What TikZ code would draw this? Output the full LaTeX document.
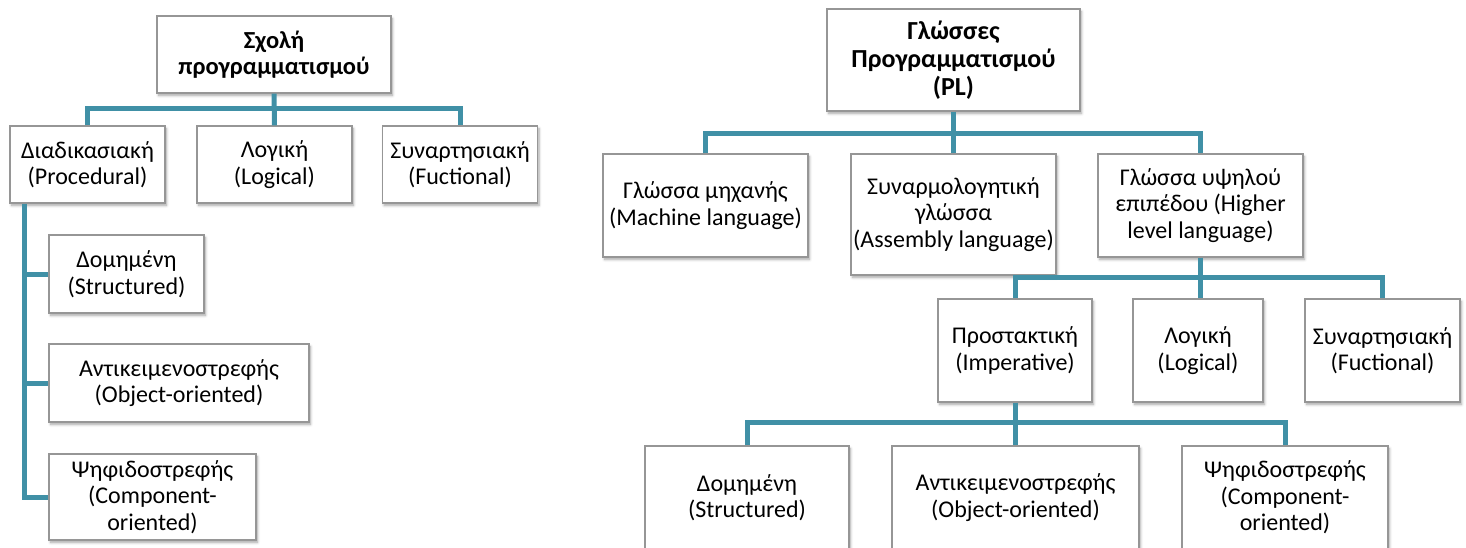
\documentclass[tikz,border=0pt]{standalone}
\usepackage{fontspec}
\setmainfont{Carlito}
\usetikzlibrary{calc,shadows.blur}
\definecolor{connblue}{RGB}{64,144,166}
\definecolor{boxline}{RGB}{150,150,150}
\begin{document}
\begin{tikzpicture}[x=1pt,y=-1pt,
  box/.style={draw=boxline, line width=1.3pt, fill=white, align=center,
    inner sep=0pt, anchor=center,
    font=\fontsize{24}{26.5}\selectfont,
    blur shadow={shadow xshift=1.5pt, shadow yshift=-2.5pt,
      shadow blur radius=2.5pt, shadow blur steps=6, shadow opacity=35}},
  headbox/.style={box, font=\fontsize{24.5}{26}\selectfont\bfseries},
  bigheadbox/.style={box, font=\fontsize{26}{28}\selectfont\bfseries},
  conn/.style={draw=connblue, line width=5pt, line join=miter}]
\useasboundingbox (0,0) rectangle (1466,547);
\clip (0,0) rectangle (1466,547);

% ---------- left tree: programming schools ----------
\node[headbox, minimum width=234pt, minimum height=77pt] (L0) at (274,54.5)
  {Σχολή\\προγραμματισμού};
\node[box, minimum width=155pt, minimum height=77pt] (L1a) at (87.5,164.5)
  {Διαδικασιακή\\(Procedural)};
\node[box, minimum width=155pt, minimum height=77pt] (L1b) at (274.5,164.5)
  {Λογική\\(Logical)};
\node[box, minimum width=155pt, minimum height=77pt] (L1c) at (460,164.5)
  {Συναρτησιακή\\(Fuctional)};
\node[box, minimum width=155pt, minimum height=78pt] (L2a) at (126.5,274)
  {Δομημένη\\(Structured)};
\node[box, minimum width=260pt, minimum height=78pt] (L2b) at (179,383)
  {Αντικειμενοστρεφής\\(Object-oriented)};
\node[box, minimum width=207pt, minimum height=86pt] (L2c) at (152.5,497)
  {Ψηφιδοστρεφής\\(Component-\\oriented)};

\coordinate (lbus) at (0,108);
\coordinate (lspine) at ($(L1a.south west)+(15,0)$);
\draw[conn] (L1a.north) -- (L1a.north |- lbus) -- (L1c.north |- lbus) -- (L1c.north);
\draw[conn] (L0.south) -- (L1b.north);
\draw[conn] (lspine) -- (lspine |- L2c.west) -- (L2c.west);
\draw[conn] (lspine |- L2a.west) -- (L2a.west);
\draw[conn] (lspine |- L2b.west) -- (L2b.west);

% ---------- right tree: programming languages ----------
\node[bigheadbox, minimum width=253pt, minimum height=102pt] (R0) at (953.5,60)
  {Γλώσσες\\Προγραμματισμού\\(PL)};
\node[box, minimum width=205pt, minimum height=103pt] (R1a) at (705.5,205.5)
  {Γλώσσα μηχανής\\(Machine language)};
\node[box, minimum width=205pt, minimum height=121pt] (R1b) at (953.5,214.5)
  {Συναρμολογητική\\γλώσσα\\(Assembly language)};
\node[box, minimum width=205pt, minimum height=103pt] (R1c) at (1200.5,205.5)
  {Γλώσσα υψηλού\\επιπέδου (Higher\\level language)};
\node[box, minimum width=154pt, minimum height=103pt] (R2a) at (1015,350.5)
  {Προστακτική\\(Imperative)};
\node[box, minimum width=130pt, minimum height=103pt] (R2b) at (1198,350.5)
  {Λογική\\(Logical)};
\node[box, minimum width=155pt, minimum height=103pt] (R2c) at (1382.5,350.5)
  {Συναρτησιακή\\(Fuctional)};
\node[box, minimum width=204pt, minimum height=103pt] (R3a) at (747,497.5)
  {Δομημένη\\(Structured)};
\node[box, minimum width=247pt, minimum height=103pt] (R3b) at (1015.5,497.5)
  {Αντικειμενοστρεφής\\(Object-oriented)};
\node[box, minimum width=206pt, minimum height=103pt] (R3c) at (1285,497.5)
  {Ψηφιδοστρεφής\\(Component-\\oriented)};

\coordinate (rbus1) at (0,133);
\coordinate (rbus2) at (0,277);
\coordinate (rbus3) at (0,422);
\draw[conn] (R1a.north) -- (R1a.north |- rbus1) -- (R1c.north |- rbus1) -- (R1c.north);
\draw[conn] (R0.south) -- (R1b.north);
\draw[conn] (R2a.north) -- (R2a.north |- rbus2) -- (R2c.north |- rbus2) -- (R2c.north);
\draw[conn] (R1c.south) -- (R1c.south |- rbus2) -- (R2b.north -| R1c.south);
\draw[conn] (R3a.north) -- (R3a.north |- rbus3) -- (R3c.north |- rbus3) -- (R3c.north);
\draw[conn] (R2a.south) -- (R3b.north -| R2a.south);
\end{tikzpicture}
\end{document}
